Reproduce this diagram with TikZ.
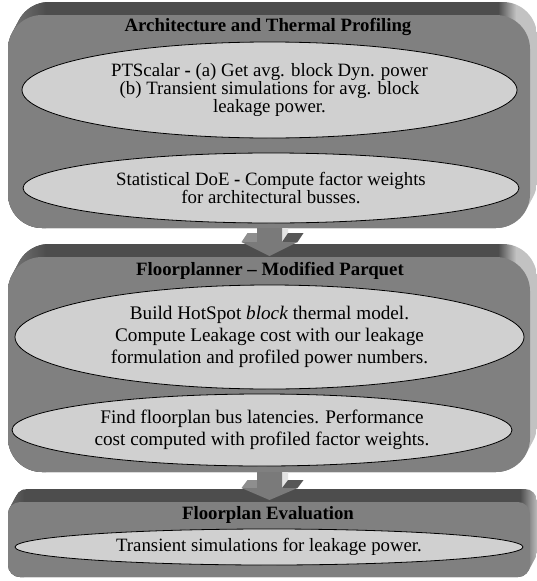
\documentclass[tikz,border=0pt]{standalone}
\usepackage{fontspec}
\setmainfont{Liberation Serif}
\usetikzlibrary{shapes.geometric}
\definecolor{faceC}{HTML}{808080}
\definecolor{topC}{HTML}{4D4D4D}
\definecolor{sideC}{HTML}{C2C2C2}
\definecolor{edgeL}{HTML}{9A9A9A}
\definecolor{ellC}{HTML}{D0D0D0}
\definecolor{arrC}{HTML}{7A7A7A}
\definecolor{arrL}{HTML}{8E8E8E}
\definecolor{arrD}{HTML}{575757}
\definecolor{arrS}{HTML}{E4E4E4}
\tikzset{
  ellnode/.style={ellipse, draw=black, line width=0.8pt, fill=ellC, inner sep=0pt, align=center,
    font=\fontsize{18.8}{18}\selectfont},
  titlenode/.style={font=\fontsize{18.8}{20}\selectfont\bfseries, inner sep=0pt},
}
% x0, ytop, x1, ybottom, radius
\newcommand\slab[5]{%
  \begin{scope}
    \clip[rounded corners=#5pt] foreach \i in {0,1,...,14}{
      ({#1+\i*0.5},{#2-\i*13/14}) rectangle ({#3+\i*0.5},{#4-\i*13/14}) };
    \fill[topC] (-20,-20) rectangle ({#3-#5+2},600);
    \shade[left color=edgeL, right color=topC] (-20,-20) rectangle ({#1+#5+4},600);
    \shade[left color=topC, right color=sideC] ({#3-#5+2},-20) rectangle ({#3-#5+20},600);
    \fill[sideC] ({#3-#5+20},-20) rectangle (600,600);
  \end{scope}
  \fill[faceC, rounded corners=#5pt] (#1,#2) rectangle (#3,#4);
}
% block arrow relative to named coordinate: head base dy, tip dy, back offset dx dy
\newcommand\blockarrow[5]{%
  \begin{scope}[shift={(#1)}]
    \fill[arrS] (12.5,0) -- ({12.5+#4},0) -- ({12.5+#4},{#2+#5}) -- (12.5,#2) -- cycle;
    \fill[arrD] (12.5,#2) -- (28,#2) -- ({28+#4},{#2+#5}) -- ({12.5+#4},{#2+#5}) -- cycle;
    \fill[arrL] (-28,#2) -- (-12.5,#2) -- ({-12.5+#4},{#2+#5}) -- ({-28+#4},{#2+#5}) -- cycle;
    \fill[arrC] (-12.5,0) -- (-12.5,#2) -- (-28,#2) -- (0,#3) -- (28,#2) -- (12.5,#2) -- (12.5,0) -- cycle;
  \end{scope}
}
\begin{document}
\begin{tikzpicture}[x=1pt,y=-1pt]
\useasboundingbox[fill=white] (0,0) rectangle (537,581);

% Panel 1
\slab{8}{15}{530}{228}{34}
\node[titlenode] (t1) at (268,27) {Architecture and Thermal Profiling};
\node[ellnode, minimum width=495pt, minimum height=96pt] (e1) at (269.5,90)
  {PTScalar \textbf{-} (a) Get avg. block Dyn. power\\(b) Transient simulations for avg. block\\leakage power.};
\node[ellnode, minimum width=496pt, minimum height=70pt] (e2) at (271,188)
  {Statistical DoE \textbf{-} Compute factor weights\\for architectural busses.};

% Panel 2
\slab{8}{257}{530}{472}{34}
\node[titlenode] (t2) at (270,271) {Floorplanner -- Modified Parquet};
\node[ellnode, font=\fontsize{19.2}{22}\selectfont, minimum width=509pt, minimum height=104pt] (e3) at (269.5,337)
  {Build HotSpot \textit{block} thermal model.\\Compute Leakage cost with our leakage\\formulation and profiled power numbers.};
\node[ellnode, font=\fontsize{19.2}{22}\selectfont, minimum width=500pt, minimum height=72pt] (e4) at (262,430)
  {Find floorplan bus latencies. Performance\\cost computed with profiled factor weights.};

% Panel 3
\slab{8}{502}{530}{577}{12}
\node[titlenode] (t3) at (268,515) {Floorplan Evaluation};
\node[ellnode, minimum width=508pt, minimum height=36pt] (e5) at (269,547)
  {Transient simulations for leakage power.};

% Arrows
\coordinate (a1) at (269.5,228);
\coordinate (a2) at (269.5,472);
\blockarrow{a1}{14}{28}{6}{-9}
\blockarrow{a2}{16}{28}{6}{-8}
\end{tikzpicture}
\end{document}
